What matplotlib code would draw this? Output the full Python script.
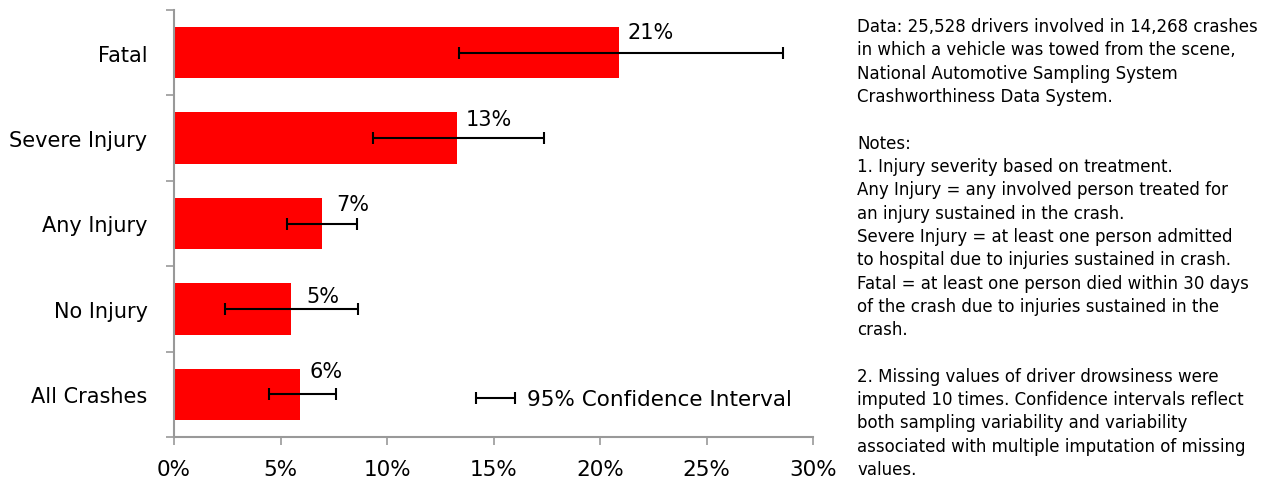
import matplotlib
matplotlib.use("Agg")
import matplotlib.pyplot as plt
import numpy as np
from matplotlib.container import ErrorbarContainer
from matplotlib.legend_handler import HandlerErrorbar
from matplotlib.ticker import FuncFormatter, FixedLocator

categories = ["Fatal", "Severe Injury", "Any Injury", "No Injury", "All Crashes"]
values = [20.9, 13.3, 6.95, 5.5, 5.9]
ci_low = [13.4, 9.35, 5.3, 2.4, 4.45]
ci_high = [28.6, 17.35, 8.6, 8.65, 7.6]
value_labels = ["21%", "13%", "7%", "5%", "6%"]
label_dx = [0.4, 0.4, 0.65, 0.7, 0.45]
label_dy = [0.055, 0.08, 0.07, 0.15, 0.03]
x_ticks = [0, 5, 10, 15, 20, 25, 30]

notes = (
    "Data: 25,528 drivers involved in 14,268 crashes\n"
    "in which a vehicle was towed from the scene,\n"
    "National Automotive Sampling System\n"
    "Crashworthiness Data System.\n"
    "\n"
    "Notes:\n"
    "1. Injury severity based on treatment.\n"
    "Any Injury = any involved person treated for\n"
    "an injury sustained in the crash.\n"
    "Severe Injury = at least one person admitted\n"
    "to hospital due to injuries sustained in crash.\n"
    "Fatal = at least one person died within 30 days\n"
    "of the crash due to injuries sustained in the\n"
    "crash.\n"
    "\n"
    "2. Missing values of driver drowsiness were\n"
    "imputed 10 times. Confidence intervals reflect\n"
    "both sampling variability and variability\n"
    "associated with multiple imputation of missing\n"
    "values."
)

plt.rcParams['font.family'] = ['DejaVu Sans']

fig = plt.figure(figsize=(12.72, 4.85), dpi=100)
ax = fig.add_axes([174/1272, 47/485, (813-174)/1272, (438-11)/485])

y = np.arange(len(categories))
vals = np.array(values)
lo = vals - np.array(ci_low)
hi = np.array(ci_high) - vals
bar_h = 0.6
ax.barh(y, vals, height=bar_h, color="#FF0000", zorder=2)
eb = ax.errorbar(vals, y, xerr=[lo, hi], fmt='none', ecolor='black',
                 elinewidth=1.5, capsize=4, capthick=1.5, zorder=3,
                 label="95% Confidence Interval")

for i, (v, t, dx, dy) in enumerate(zip(vals, value_labels, label_dx, label_dy)):
    ax.text(v + dx, i - bar_h/2 + dy, t, ha='left', va='center', fontsize=15)

ax.set_xlim(0, 30)
ax.set_ylim(len(categories) - 0.5, -0.5)
ax.set_yticks(y)
ax.set_yticklabels(categories, fontsize=15)
ax.yaxis.set_minor_locator(FixedLocator(np.arange(-0.5, len(categories), 1.0)))
ax.tick_params(axis='y', which='major', length=0, pad=19)
ax.tick_params(axis='y', which='minor', length=6, color='#999999', width=1.2)
ax.set_xticks(x_ticks)
ax.xaxis.set_major_formatter(FuncFormatter(lambda v, p: f"{v:.0f}%"))
ax.tick_params(axis='x', length=6, color='#999999', width=1.2, labelsize=15.5, pad=10)

for s in ['top', 'right']:
    ax.spines[s].set_visible(False)
for s in ['left', 'bottom']:
    ax.spines[s].set_color('#999999')
    ax.spines[s].set_linewidth(1.5)

leg = ax.legend(handles=[eb], loc='lower right', frameon=False, fontsize=15.5,
                handlelength=1.9, handletextpad=0.5, borderaxespad=0.3,
                bbox_to_anchor=(0.99, 0.03),
                handler_map={ErrorbarContainer: HandlerErrorbar(xerr_size=0.9)})

fig.text(857/1272, 1 - 18/485, notes, ha='left', va='top', fontsize=12,
         linespacing=1.38)

fig.savefig("out.png", dpi=100)
